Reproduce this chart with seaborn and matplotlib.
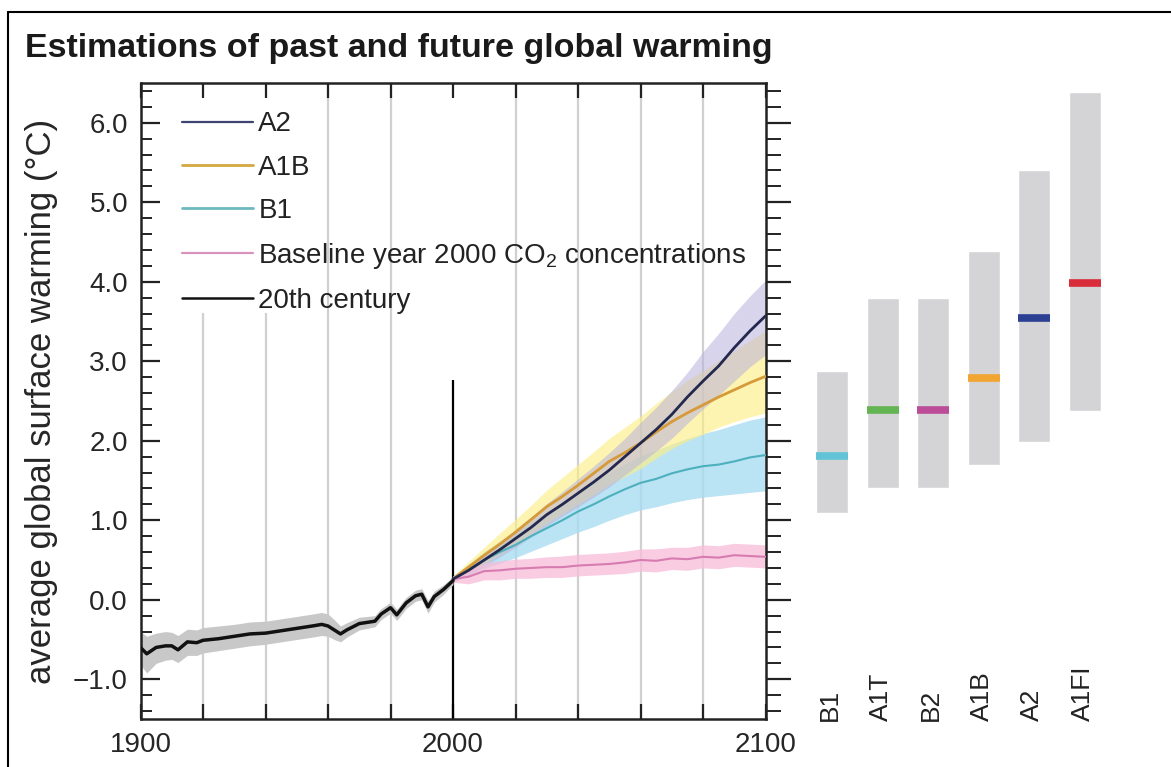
import numpy as np
import seaborn as sns
import matplotlib.pyplot as plt
from matplotlib.lines import Line2D
from matplotlib.ticker import MultipleLocator, FuncFormatter

# 20th century (observed/simulated) warming
years_hist = [1900, 1902, 1905, 1908, 1910, 1912, 1915, 1918, 1920, 1925, 1930,
              1935, 1940, 1945, 1950, 1955, 1958, 1960, 1962, 1964, 1966, 1970,
              1975, 1977, 1980, 1982, 1985, 1988, 1990, 1992, 1994, 1997, 2000]
hist = [-0.60, -0.68, -0.60, -0.58, -0.58, -0.63, -0.53, -0.54, -0.51, -0.49, -0.46,
        -0.43, -0.42, -0.39, -0.36, -0.33, -0.31, -0.33, -0.38, -0.43, -0.38, -0.30,
        -0.27, -0.18, -0.10, -0.19, -0.04, 0.05, 0.07, -0.09, 0.04, 0.13, 0.24]
hist_lo = [-0.82, -0.92, -0.80, -0.76, -0.75, -0.79, -0.70, -0.70, -0.67, -0.64, -0.61,
           -0.58, -0.56, -0.53, -0.50, -0.47, -0.45, -0.46, -0.50, -0.53, -0.47, -0.38,
           -0.34, -0.25, -0.17, -0.26, -0.11, -0.02, 0.00, -0.17, -0.03, 0.07, 0.19]
hist_hi = [-0.40, -0.46, -0.42, -0.40, -0.41, -0.45, -0.37, -0.38, -0.35, -0.33, -0.31,
           -0.28, -0.27, -0.24, -0.21, -0.18, -0.16, -0.18, -0.25, -0.33, -0.29, -0.22,
           -0.20, -0.11, -0.03, -0.12, 0.03, 0.12, 0.14, -0.01, 0.11, 0.19, 0.29]

# scenario projections 2000-2100
years_fut = [2000, 2005, 2010, 2015, 2020, 2025, 2030, 2035, 2040, 2045, 2050,
             2055, 2060, 2065, 2070, 2075, 2080, 2085, 2090, 2095, 2100]
a2 = [0.26, 0.37, 0.50, 0.63, 0.77, 0.91, 1.07, 1.20, 1.34, 1.48, 1.63,
      1.80, 1.97, 2.14, 2.33, 2.55, 2.75, 2.94, 3.17, 3.38, 3.57]
a2_lo = [0.22, 0.31, 0.42, 0.54, 0.66, 0.79, 0.93, 1.05, 1.17, 1.29, 1.42,
         1.57, 1.72, 1.87, 2.03, 2.22, 2.40, 2.57, 2.75, 2.93, 3.08]
a2_hi = [0.30, 0.44, 0.58, 0.73, 0.88, 1.04, 1.21, 1.36, 1.52, 1.68, 1.85,
         2.03, 2.23, 2.42, 2.63, 2.86, 3.12, 3.35, 3.60, 3.82, 4.02]
a1b = [0.26, 0.41, 0.56, 0.70, 0.85, 1.01, 1.17, 1.30, 1.44, 1.59, 1.74,
       1.85, 1.97, 2.11, 2.24, 2.35, 2.45, 2.55, 2.64, 2.73, 2.81]
a1b_lo = [0.22, 0.33, 0.45, 0.57, 0.70, 0.83, 0.96, 1.08, 1.20, 1.32, 1.45,
          1.55, 1.65, 1.78, 1.90, 2.00, 2.08, 2.17, 2.24, 2.30, 2.35]
a1b_hi = [0.30, 0.48, 0.66, 0.84, 1.01, 1.19, 1.38, 1.54, 1.70, 1.86, 2.03,
          2.17, 2.31, 2.47, 2.62, 2.76, 2.88, 3.01, 3.13, 3.26, 3.38]
b1 = [0.26, 0.38, 0.50, 0.60, 0.69, 0.80, 0.90, 1.00, 1.11, 1.20, 1.30,
      1.39, 1.47, 1.52, 1.59, 1.64, 1.68, 1.70, 1.74, 1.79, 1.82]
b1_lo = [0.22, 0.31, 0.39, 0.46, 0.53, 0.61, 0.69, 0.77, 0.85, 0.92, 1.00,
         1.07, 1.13, 1.17, 1.22, 1.26, 1.29, 1.31, 1.33, 1.35, 1.37]
b1_hi = [0.30, 0.45, 0.61, 0.74, 0.85, 0.98, 1.11, 1.23, 1.37, 1.48, 1.60,
         1.71, 1.81, 1.88, 1.96, 2.03, 2.09, 2.14, 2.20, 2.26, 2.30]
base = [0.26, 0.29, 0.36, 0.37, 0.39, 0.40, 0.41, 0.41, 0.43, 0.44, 0.45,
        0.47, 0.50, 0.49, 0.52, 0.51, 0.54, 0.53, 0.56, 0.55, 0.54]
base_lo = [0.22, 0.20, 0.25, 0.25, 0.27, 0.27, 0.28, 0.28, 0.30, 0.31, 0.32,
           0.33, 0.36, 0.35, 0.38, 0.37, 0.40, 0.39, 0.42, 0.41, 0.40]
base_hi = [0.30, 0.37, 0.46, 0.49, 0.51, 0.52, 0.54, 0.55, 0.57, 0.58, 0.59,
           0.61, 0.64, 0.64, 0.66, 0.66, 0.69, 0.68, 0.71, 0.70, 0.69]

# likely ranges at 2090-2099 per scenario (right panel)
scenarios = ['B1', 'A1T', 'B2', 'A1B', 'A2', 'A1FI']
range_low = [1.09, 1.40, 1.40, 1.69, 1.99, 2.37]
range_high = [2.88, 3.79, 3.79, 4.39, 5.40, 6.39]
best_est = [1.81, 2.39, 2.39, 2.79, 3.54, 3.99]
best_colors = ['#62c3d6', '#62b552', '#bb4d98', '#f1a532', '#2b3f93', '#d92c3a']

sns.set_style('white')
plt.rcParams['font.family'] = ['Liberation Sans', 'DejaVu Sans']
plt.rcParams['mathtext.fontset'] = 'custom'
plt.rcParams['mathtext.rm'] = 'Liberation Sans'
plt.rcParams['text.color'] = '#222222'

W, H = 1171, 767
fig = plt.figure(figsize=(W / 100, H / 100), dpi=100)
ax = fig.add_axes([140.5 / W, 1 - 719 / H, 625 / W, 636 / H])

# grid lines (the two left ones are hidden behind the legend handles)
for yr in range(1920, 2100, 20):
    if yr == 2000:
        continue
    top = 3.61 if yr < 1960 else 6.5
    ax.vlines(yr, -1.5, top, color='#d0d0d0', lw=1.6, zorder=0)
ax.vlines(2000, -1.5, 2.77, color='black', lw=1.6, zorder=1)

# uncertainty bands
ax.fill_between(years_hist, hist_lo, hist_hi, color='#c8c8c8', lw=0, zorder=1)
ax.fill_between(years_fut, b1_lo, b1_hi, color='#a9dcf2', alpha=0.8, lw=0, zorder=1)
ax.fill_between(years_fut, a1b_lo, a1b_hi, color='#fbef86', alpha=0.65, lw=0, zorder=1)
ax.fill_between(years_fut, a2_lo, a2_hi, color='#b9b2dc', alpha=0.55, lw=0, zorder=1)
ax.fill_between(years_fut, base_lo, base_hi, color='#f7bcd9', alpha=0.75, lw=0, zorder=1)

sns.lineplot(x=years_fut, y=base, color='#d77bb0', lw=1.5, ax=ax, zorder=3)
sns.lineplot(x=years_fut, y=b1, color='#4db0bd', lw=1.5, ax=ax, zorder=3)
sns.lineplot(x=years_fut, y=a1b, color='#d69a38', lw=2, ax=ax, zorder=3)
sns.lineplot(x=years_fut, y=a2, color='#23284f', lw=2, ax=ax, zorder=4)
sns.lineplot(x=years_hist, y=hist, color='#111111', lw=2.5, ax=ax, zorder=4)

handles = [Line2D([], [], color='#3e4372', lw=1.6),
           Line2D([], [], color='#d3a83f', lw=2),
           Line2D([], [], color='#6cb9c0', lw=2),
           Line2D([], [], color='#d993bf', lw=1.6),
           Line2D([], [], color='#111111', lw=1.8)]
labels = ['A2', 'A1B', 'B1', 'Baseline year 2000 CO$_\\mathregular{2}$ concentrations',
          '20th century']
ax.legend(handles, labels, loc='upper left', bbox_to_anchor=(0.0664, 0.9555),
          frameon=False, fontsize=20, handlelength=2.55, handletextpad=0.2,
          labelspacing=0.62, borderpad=0, borderaxespad=0)

ax.set_xlim(1900, 2100)
ax.set_ylim(-1.5, 6.5)
ax.xaxis.set_major_locator(MultipleLocator(20))
ax.xaxis.set_major_formatter(FuncFormatter(
    lambda v, p: f'{int(v)}' if int(round(v)) % 100 == 0 else ''))
ax.yaxis.set_major_locator(MultipleLocator(1.0))
ax.yaxis.set_minor_locator(MultipleLocator(0.2))
ax.yaxis.set_major_formatter(FuncFormatter(
    lambda v, p: f'{v:.1f}'.replace('-', '\u2212')))
ax.tick_params(axis='x', which='major', direction='in', length=11, width=1.6,
               top=True, bottom=True, labelsize=20, pad=9, color='#222222')
ax.tick_params(axis='y', which='major', direction='in', length=14, width=1.6,
               left=True, right=False, labelsize=20, pad=9, color='#222222')
ax.tick_params(axis='y', which='minor', direction='in', length=8, width=1.4,
               left=True, right=False, color='#222222')
for s in ax.spines.values():
    s.set_linewidth(1.8)
    s.set_color('#222222')
ax.set_xlabel('')
ax.set_ylabel('average global surface warming (\u00b0C)', fontsize=25)
ax.yaxis.set_label_coords(-0.132, 0.5)

# outward ticks on the right-hand side
axr = ax.twinx()
axr.set_ylim(-1.5, 6.5)
axr.yaxis.set_major_locator(MultipleLocator(1.0))
axr.yaxis.set_minor_locator(MultipleLocator(0.2))
axr.tick_params(axis='y', which='major', direction='out', length=18, width=1.6,
                labelright=False, color='#222222')
axr.tick_params(axis='y', which='minor', direction='out', length=11, width=1.4,
                color='#222222')
for s in axr.spines.values():
    s.set_visible(False)

# right panel: likely ranges and best estimates
ax2 = fig.add_axes([806.7 / W, 1 - 719 / H, 303.6 / W, 636 / H])
heights = [h - l for h, l in zip(range_high, range_low)]
sns.barplot(x=scenarios, y=heights, bottom=range_low, color='#d4d4d6',
            saturation=1, width=0.63, errorbar=None, ax=ax2)
pos = np.arange(len(scenarios))
ax2.hlines(best_est, pos - 0.315, pos + 0.315, colors=best_colors, lw=5.5, zorder=3)
for i, name in enumerate(scenarios):
    ax2.text(i - 0.04, -1.53, name, rotation=90, ha='center', va='bottom',
             fontsize=19, clip_on=False)
ax2.set_xlim(-0.5, len(scenarios) - 0.5)
ax2.set_ylim(-1.5, 6.5)
ax2.set_xticks([])
ax2.set_yticks([])
ax2.set_xlabel('')
ax2.set_ylabel('')
for s in ax2.spines.values():
    s.set_visible(False)
ax2.patch.set_alpha(0)

fig.text(25 / W, 1 - 57 / H, 'Estimations of past and future global warming',
         fontsize=24.5, fontweight='bold', ha='left', va='baseline', color='#1a1a1a')

# frame lines along the top and left of the image
fig.add_artist(Line2D([8 / W, 1], [1 - 11.5 / H] * 2, transform=fig.transFigure,
                      color='black', lw=1.5))
fig.add_artist(Line2D([8 / W] * 2, [0, 1 - 11.5 / H], transform=fig.transFigure,
                      color='black', lw=1.5))

fig.savefig('out.png', dpi=100)
